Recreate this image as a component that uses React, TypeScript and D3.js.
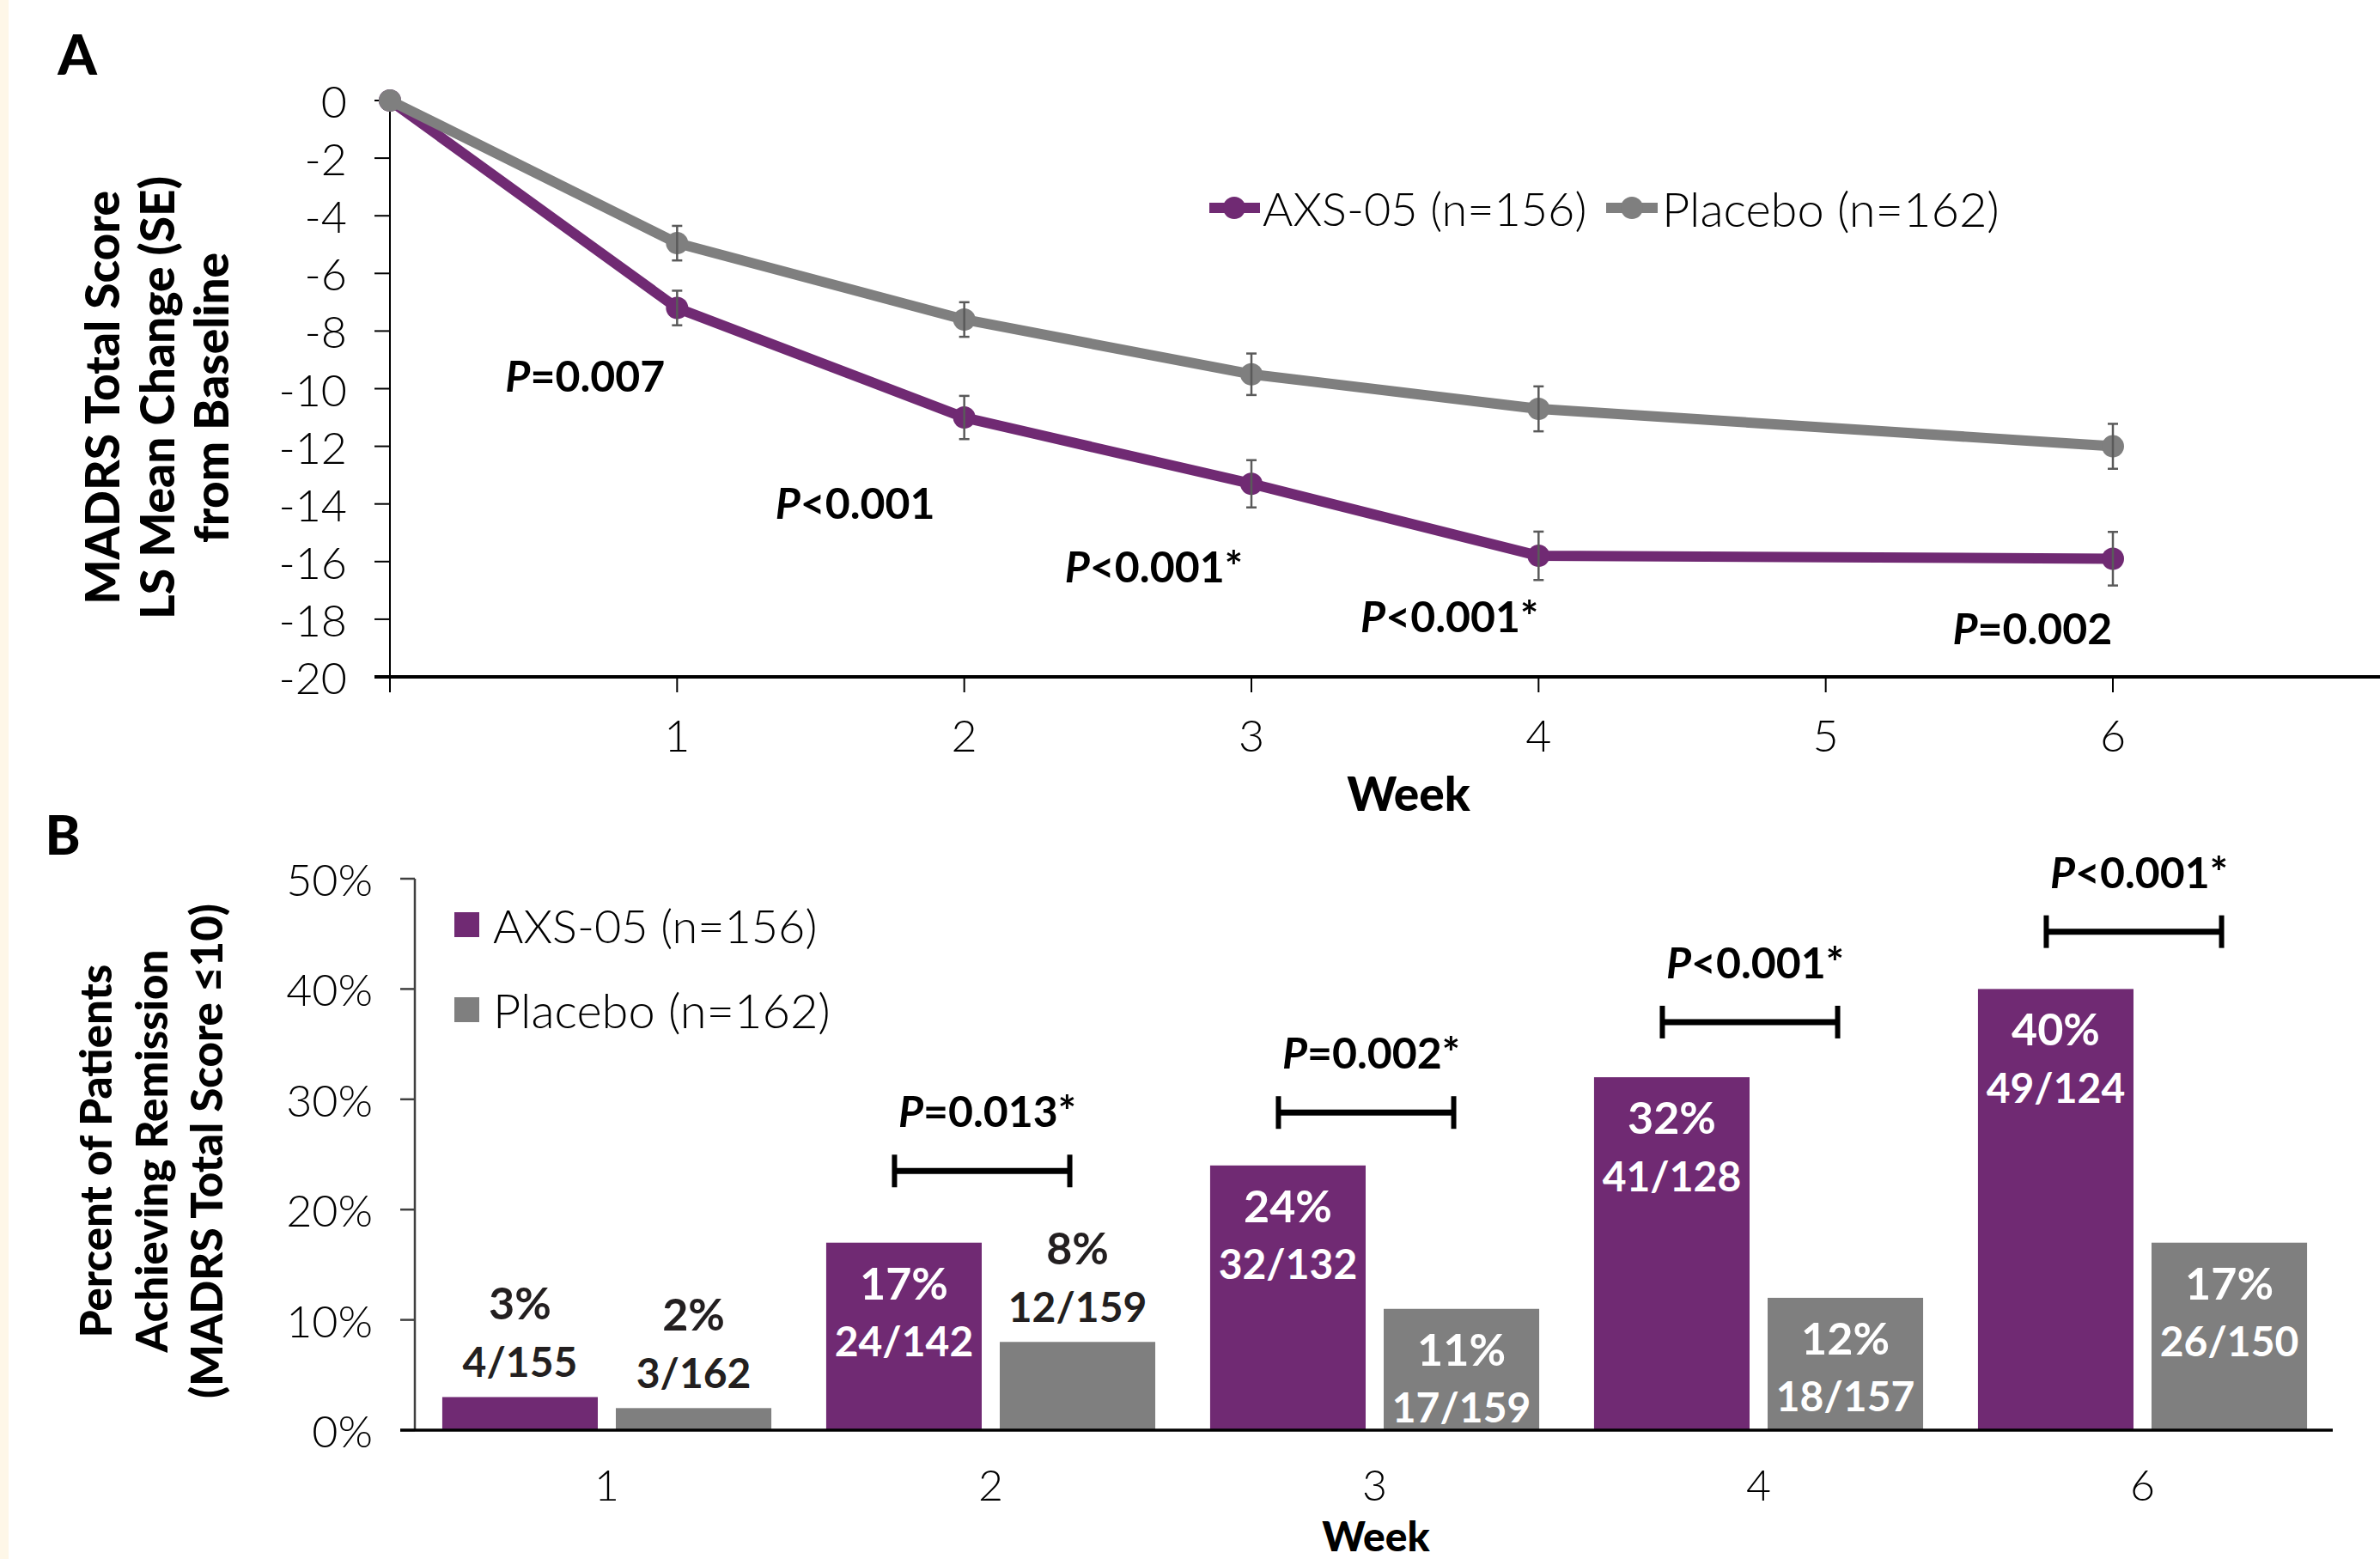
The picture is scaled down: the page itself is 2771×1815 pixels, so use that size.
import React from "react";
import * as d3 from "d3";

// ---------- Panel A data ----------
const weeksA = [0, 1, 2, 3, 4, 6];
const axsMean = [0, -7.2, -11.0, -13.3, -15.8, -15.9];
const axsSE = [0, 0.6, 0.75, 0.82, 0.84, 0.93];
const pboMean = [0, -4.95, -7.6, -9.5, -10.7, -12.0];
const pboSE = [0, 0.6, 0.6, 0.72, 0.78, 0.78];
const yTicksA = [0, -2, -4, -6, -8, -10, -12, -14, -16, -18, -20];
const xTicksA = [0, 1, 2, 3, 4, 5, 6];
const pTextA = ["=0.007", "<0.001", "<0.001*", "<0.001*", "=0.002"];
const pWeekA = [0.68, 1.62, 2.66, 3.69, 5.72];
const pValueA = [-9.55, -13.95, -16.15, -17.88, -18.3];

// ---------- Panel B data ----------
const weeksB = ["1", "2", "3", "4", "6"];
const axsPct = [3, 17, 24, 32, 40];
const pboPct = [2, 8, 11, 12, 17];
const axsFrac = ["4/155", "24/142", "32/132", "41/128", "49/124"];
const pboFrac = ["3/162", "12/159", "17/159", "18/157", "26/150"];
const pTextB = ["", "=0.013*", "=0.002*", "<0.001*", "<0.001*"];
const bracketLevel = [0, 23.5, 28.8, 37.0, 45.2];
const yTicksB = [0, 10, 20, 30, 40, 50];

const PURPLE = "#702A73";
const GRAY = "#7F7F7F";
const ERR = "#5A5A5A";
const DARK = "#231F20";
const FONT = "Lato, 'Open Sans', sans-serif";

export default function App() {
  const W = 2771;
  const H = 1815;

  // Panel A scales
  const xA = d3.scaleLinear().domain([0, 6]).range([454, 2460]);
  const yA = d3.scaleLinear().domain([0, -20]).range([117, 788]);
  const line = d3
    .line<number>()
    .x((_, i) => xA(weeksA[i]))
    .y((d) => yA(d));

  // Panel B scales
  const xB = d3.scaleBand<string>().domain(weeksB).range([483, 2718]).paddingInner(0).paddingOuter(0);
  const xSub = d3
    .scaleBand<string>()
    .domain(["axs", "pbo"])
    .range([0, xB.bandwidth()])
    .paddingInner(0.104)
    .paddingOuter(0.158);
  const yB = d3.scaleLinear().domain([0, 50]).range([1665, 1023]);

  const series = [{ key: "pbo", mean: pboMean, se: pboSE, color: GRAY }];

  const errBars = (mean: number[], se: number[], key: string) =>
    mean.map((m, i) =>
      se[i] > 0 ? (
        <g key={key + i} stroke={ERR} strokeWidth={2.5}>
          <line x1={xA(weeksA[i])} x2={xA(weeksA[i])} y1={yA(m + se[i])} y2={yA(m - se[i])} />
          <line x1={xA(weeksA[i]) - 6} x2={xA(weeksA[i]) + 6} y1={yA(m + se[i])} y2={yA(m + se[i])} />
          <line x1={xA(weeksA[i]) - 6} x2={xA(weeksA[i]) + 6} y1={yA(m - se[i])} y2={yA(m - se[i])} />
        </g>
      ) : null
    );

  return (
    <svg
      width={W}
      height={H}
      style={{ position: "absolute", left: 0, top: 0, background: "#fff" }}
      fontFamily={FONT}
    >
      <rect x={0} y={0} width={W} height={H} fill="#fff" />
      <rect x={0} y={0} width={10} height={H} fill="#FEF7E8" />

      {/* ================= PANEL A ================= */}
      <text x={90} y={87} fontSize={65} fontWeight={900} textAnchor="middle" fill="#000">A</text>

      {/* Y title A */}
      {["MADRS Total Score", "LS Mean Change (SE)", "from Baseline"].map((t, i) => (
        <text
          key={t}
          transform={`translate(${[118, 182, 245][i]},463) rotate(-90)`}
          textAnchor="middle"
          dominantBaseline="central"
          fontSize={55}
          fontWeight={900}
          fill="#000"
        >
          {t}
        </text>
      ))}

      {/* Y axis A */}
      <line x1={454} x2={454} y1={117} y2={788} stroke="#000" strokeWidth={2} />
      {yTicksA.map((t) => (
        <g key={"ya" + t}>
          <line x1={436} x2={454} y1={yA(t)} y2={yA(t)} stroke="#000" strokeWidth={2} />
          <text x={404} y={yA(t)} textAnchor="end" dominantBaseline="central" fontSize={52} fontWeight={300} fill="#000">
            {t}
          </text>
        </g>
      ))}

      {/* X axis A */}
      <line x1={436} x2={W} y1={788} y2={788} stroke="#000" strokeWidth={4} />
      {xTicksA.map((t) => (
        <g key={"xa" + t}>
          <line x1={xA(t)} x2={xA(t)} y1={788} y2={806} stroke="#000" strokeWidth={2} />
          {t > 0 && (
            <text x={xA(t)} y={855} textAnchor="middle" dominantBaseline="central" fontSize={52} fontWeight={300} fill="#000">
              {t}
            </text>
          )}
        </g>
      ))}
      <text x={1640} y={923} textAnchor="middle" dominantBaseline="central" fontSize={55} fontWeight={900} fill="#000">
        Week
      </text>

      {/* Lines A */}
      <path d={line(axsMean) || ""} fill="none" stroke={PURPLE} strokeWidth={12} strokeLinejoin="round" />
      {axsMean.map((m, i) => (
        <circle key={"am" + i} cx={xA(weeksA[i])} cy={yA(m)} r={13} fill={PURPLE} />
      ))}
      {series.map((s) => (
        <g key={s.key}>
          <path d={line(s.mean) || ""} fill="none" stroke={s.color} strokeWidth={12} strokeLinejoin="round" />
          {s.mean.map((m, i) => (
            <circle key={"pm" + i} cx={xA(weeksA[i])} cy={yA(m)} r={13} fill={s.color} />
          ))}
        </g>
      ))}
      {errBars(axsMean, axsSE, "ea")}
      {errBars(pboMean, pboSE, "ep")}

      {/* P labels A */}
      {pTextA.map((t, i) => (
        <text
          key={"pa" + i}
          x={xA(pWeekA[i])}
          y={yA(pValueA[i])}
          textAnchor="middle"
          dominantBaseline="central"
          fontSize={50}
          fontWeight={700}
          fill="#000"
        >
          <tspan fontStyle="italic">P</tspan>
          <tspan>{t}</tspan>
        </text>
      ))}

      {/* Legend A */}
      <line x1={1408} x2={1467} y1={242} y2={242} stroke={PURPLE} strokeWidth={12} />
      <circle cx={1437} cy={242} r={13} fill={PURPLE} />
      <text x={1470} y={242} dominantBaseline="central" fontSize={54} fontWeight={300} fill="#000">
        AXS-05 (n=156)
      </text>
      <line x1={1870} x2={1930} y1={242} y2={242} stroke={GRAY} strokeWidth={12} />
      <circle cx={1900} cy={242} r={13} fill={GRAY} />
      <text x={1935} y={242} dominantBaseline="central" fontSize={56} fontWeight={300} fill="#000">
        Placebo (n=162)
      </text>

      {/* ================= PANEL B ================= */}
      <text x={73} y={995} fontSize={62} fontWeight={900} textAnchor="middle" fill="#000">B</text>

      {["Percent of Patients", "Achieving Remission", "(MADRS Total Score \u226410)"].map((t, i) => (
        <text
          key={t}
          transform={`translate(${[110, 175, 239][i]},1340) rotate(-90)`}
          textAnchor="middle"
          dominantBaseline="central"
          fontSize={51}
          fontWeight={900}
          fill="#000"
        >
          {t}
        </text>
      ))}

      {/* Y axis B */}
      <line x1={483} x2={483} y1={1023} y2={1665} stroke="#404040" strokeWidth={2.5} />
      {yTicksB.map((t) => (
        <g key={"yb" + t}>
          <line x1={466} x2={483} y1={yB(t)} y2={yB(t)} stroke="#404040" strokeWidth={2.5} />
          <text x={434} y={yB(t)} textAnchor="end" dominantBaseline="central" fontSize={52} fontWeight={300} fill="#000">
            {t}%
          </text>
        </g>
      ))}

      {/* Bars */}
      {weeksB.map((w, i) => {
        const gx = xB(w) || 0;
        const bars = [
          { k: "axs", v: axsPct[i], frac: axsFrac[i], color: PURPLE },
          { k: "pbo", v: pboPct[i], frac: pboFrac[i], color: GRAY },
        ];
        return (
          <g key={"g" + w}>
            {bars.map((b) => {
              const x0 = gx + (xSub(b.k) || 0);
              const cx = x0 + xSub.bandwidth() / 2;
              const top = yB(b.v);
              const inside = b.v >= 10;
              const pctY = inside ? top + 46 : top - 110;
              const fracY = inside ? top + 114 : top - 42;
              const fill = inside ? "#fff" : DARK;
              return (
                <g key={b.k}>
                  <rect x={x0} y={top} width={xSub.bandwidth()} height={yB(0) - top} fill={b.color} />
                  <text x={cx} y={pctY} textAnchor="middle" dominantBaseline="central" fontSize={52} fontWeight={700} fill={fill}>
                    {b.v}%
                  </text>
                  <text x={cx} y={fracY} textAnchor="middle" dominantBaseline="central" fontSize={48} fontWeight={700} fill={fill}>
                    {b.frac}
                  </text>
                </g>
              );
            })}
            {pTextB[i] && (() => {
              const x1 = gx + (xSub("axs") || 0) + xSub.bandwidth() / 2 - 11;
              const x2 = gx + (xSub("pbo") || 0) + xSub.bandwidth() / 2 - 9;
              const by = yB(bracketLevel[i]);
              return (
                <g>
                  <line x1={x1} x2={x2} y1={by} y2={by} stroke="#000" strokeWidth={7} />
                  <line x1={x1} x2={x1} y1={by - 19} y2={by + 19} stroke="#000" strokeWidth={6} />
                  <line x1={x2} x2={x2} y1={by - 19} y2={by + 19} stroke="#000" strokeWidth={6} />
                  <text x={(x1 + x2) / 2 + 6} y={by - 70} textAnchor="middle" dominantBaseline="central" fontSize={50} fontWeight={700} fill="#000">
                    <tspan fontStyle="italic">P</tspan>
                    <tspan>{pTextB[i]}</tspan>
                  </text>
                </g>
              );
            })()}
            <text x={gx + xB.bandwidth() / 2} y={1728} textAnchor="middle" dominantBaseline="central" fontSize={50} fontWeight={300} fill="#000">
              {w}
            </text>
          </g>
        );
      })}

      {/* X axis B */}
      <line x1={466} x2={2716} y1={1665} y2={1665} stroke="#000" strokeWidth={3.5} />
      <text x={1602} y={1787} textAnchor="middle" dominantBaseline="central" fontSize={48} fontWeight={900} fill="#000">
        Week
      </text>

      {/* Legend B */}
      <rect x={529} y={1062} width={29} height={29} fill={PURPLE} />
      <text x={574} y={1077} dominantBaseline="central" fontSize={54} fontWeight={300} fill="#000">
        AXS-05 (n=156)
      </text>
      <rect x={529} y={1161} width={29} height={29} fill={GRAY} />
      <text x={574} y={1175} dominantBaseline="central" fontSize={56} fontWeight={300} fill="#000">
        Placebo (n=162)
      </text>
    </svg>
  );
}
